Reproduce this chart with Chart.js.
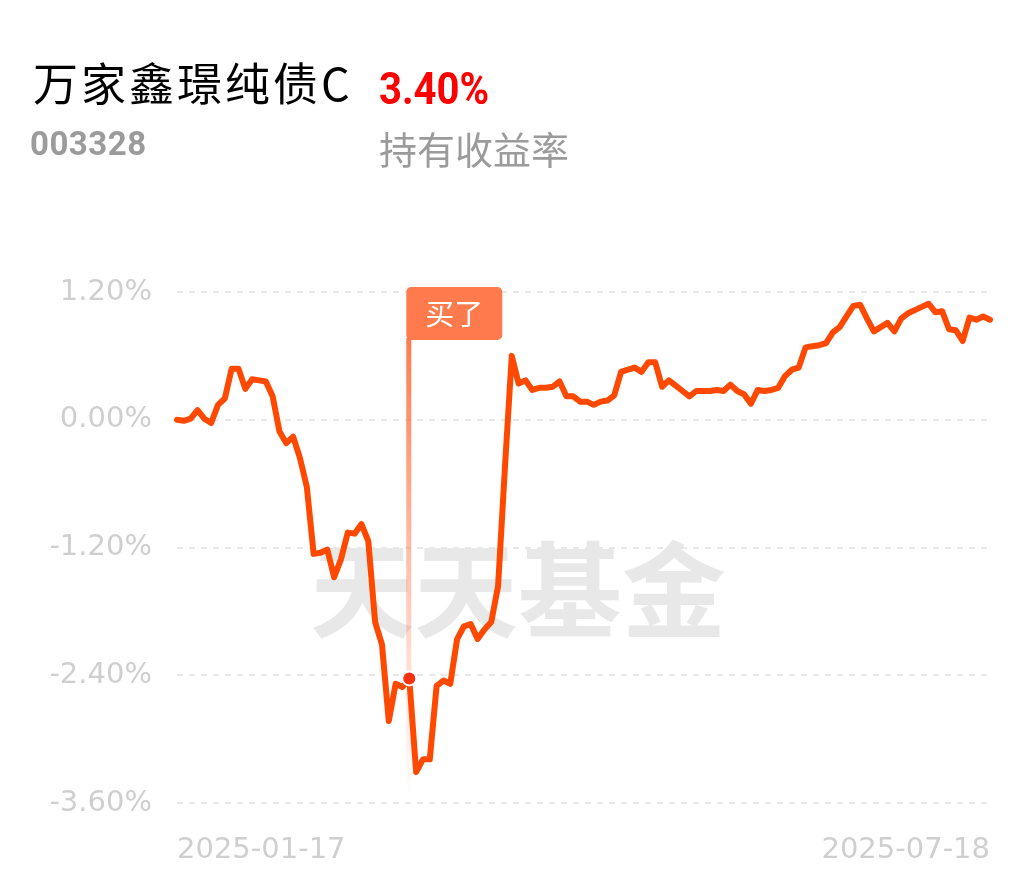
<!DOCTYPE html>
<html>
<head>
<meta charset="utf-8">
<script src="https://cdn.jsdelivr.net/npm/chart.js@4.4.1/dist/chart.umd.min.js"></script>
<style>
  html, body { margin: 0; padding: 0; background: #fff; }
  #wrap { width: 1035px; height: 881px; position: relative; }
</style>
</head>
<body>
<div id="wrap"><canvas id="lineChart" width="1035" height="881"></canvas></div>
<script>
const fundName = '万家鑫璟纯债C';
const fundCode = '003328';
const holdReturn = '3.40%';
const holdLabel = '持有收益率';
const buyText = '买了';
const watermark = '天天基金';

// trading days 2025-01-17 .. 2025-07-18
const dates = [
  '2025-01-17', '2025-01-20', '2025-01-21', '2025-01-22', '2025-01-23', '2025-01-24', '2025-01-27',
  '2025-02-05', '2025-02-06', '2025-02-07', '2025-02-10', '2025-02-11', '2025-02-12', '2025-02-13', '2025-02-14',
  '2025-02-17', '2025-02-18', '2025-02-19', '2025-02-20', '2025-02-21', '2025-02-24', '2025-02-25', '2025-02-26',
  '2025-02-27', '2025-02-28',
  '2025-03-03', '2025-03-04', '2025-03-05', '2025-03-06', '2025-03-07', '2025-03-10', '2025-03-11', '2025-03-12',
  '2025-03-13', '2025-03-14', '2025-03-17', '2025-03-18', '2025-03-19', '2025-03-20', '2025-03-21', '2025-03-24',
  '2025-03-25', '2025-03-26', '2025-03-27', '2025-03-28', '2025-03-31',
  '2025-04-01', '2025-04-02', '2025-04-03', '2025-04-07', '2025-04-08', '2025-04-09', '2025-04-10', '2025-04-11',
  '2025-04-14', '2025-04-15', '2025-04-16', '2025-04-17', '2025-04-18', '2025-04-21', '2025-04-22', '2025-04-23',
  '2025-04-24', '2025-04-25', '2025-04-28', '2025-04-29', '2025-04-30',
  '2025-05-06', '2025-05-07', '2025-05-08', '2025-05-09', '2025-05-12', '2025-05-13', '2025-05-14', '2025-05-15',
  '2025-05-16', '2025-05-19', '2025-05-20', '2025-05-21', '2025-05-22', '2025-05-23', '2025-05-26', '2025-05-27',
  '2025-05-28', '2025-05-29', '2025-05-30',
  '2025-06-03', '2025-06-04', '2025-06-05', '2025-06-06', '2025-06-09', '2025-06-10', '2025-06-11', '2025-06-12',
  '2025-06-13', '2025-06-16', '2025-06-17', '2025-06-18', '2025-06-19', '2025-06-20', '2025-06-23', '2025-06-24',
  '2025-06-25', '2025-06-26', '2025-06-27', '2025-06-30',
  '2025-07-01', '2025-07-02', '2025-07-03', '2025-07-04', '2025-07-07', '2025-07-08', '2025-07-09', '2025-07-10',
  '2025-07-11', '2025-07-14', '2025-07-15', '2025-07-16', '2025-07-17', '2025-07-18'
];

// cumulative return, %
const returns = [
  0.00, -0.01, 0.01, 0.09, 0.01, -0.03, 0.14, 0.20, 0.48, 0.48,
  0.29, 0.38, 0.37, 0.36, 0.22, -0.11, -0.22, -0.16, -0.36, -0.63,
  -1.26, -1.25, -1.22, -1.48, -1.31, -1.06, -1.07, -0.98, -1.14, -1.90,
  -2.11, -2.83, -2.48, -2.51, -2.43, -3.31, -3.19, -3.19, -2.50, -2.45,
  -2.48, -2.06, -1.94, -1.92, -2.06, -1.97, -1.90, -1.56, -0.45, 0.60,
  0.34, 0.37, 0.28, 0.30, 0.30, 0.31, 0.36, 0.22, 0.22, 0.17,
  0.17, 0.14, 0.17, 0.18, 0.23, 0.45, 0.47, 0.49, 0.45, 0.54,
  0.54, 0.31, 0.37, 0.32, 0.27, 0.22, 0.27, 0.27, 0.27, 0.28,
  0.27, 0.33, 0.27, 0.24, 0.15, 0.28, 0.27, 0.28, 0.30, 0.41,
  0.47, 0.49, 0.68, 0.69, 0.70, 0.72, 0.82, 0.87, 0.97, 1.07,
  1.08, 0.95, 0.83, 0.87, 0.91, 0.83, 0.95, 1.00, 1.03, 1.06,
  1.09, 1.01, 1.02, 0.85, 0.84, 0.74, 0.96, 0.94, 0.97, 0.94
];

const buyDate = '2025-03-14';
const yTicks = [-3.6, -2.4, -1.2, 0, 1.2];

const axisFont = { family: '"DejaVu Sans", sans-serif', size: 29 };

// header text + watermark, drawn under everything
const backdrop = {
  id: 'backdrop',
  beforeDraw(chart) {
    const ctx = chart.ctx;
    ctx.save();
    ctx.textBaseline = 'alphabetic';
    ctx.textAlign = 'left';
    ctx.fillStyle = '#000';
    ctx.font = '45px "Noto Sans CJK SC"';
    ctx.letterSpacing = '3px';
    ctx.fillText(fundName, 33, 101);
    ctx.letterSpacing = '0px';

    ctx.fillStyle = '#ff0000';
    ctx.font = 'bold 45px Roboto';
    ctx.save();
    ctx.translate(379, 104);
    ctx.scale(0.89, 1);
    ctx.fillText(holdReturn, 0, 0);
    ctx.restore();

    ctx.fillStyle = '#9b9b9b';
    ctx.font = 'bold 33px Roboto';
    ctx.letterSpacing = '0.5px';
    ctx.fillText(fundCode, 30, 155);
    ctx.letterSpacing = '0px';
    ctx.font = '38px "Noto Sans CJK SC"';
    ctx.fillText(holdLabel, 379, 164);

    ctx.fillStyle = '#e8e8e8';
    ctx.font = 'bold 104px "Noto Sans CJK SC"';
    ctx.textBaseline = 'middle';
    ctx.fillText(watermark, 310, 590);
    ctx.restore();
  }
};

// buy marker: fading guide line, label box and dot
const buyMarker = {
  id: 'buyMarker',
  beforeDatasetsDraw(chart) {
    const ctx = chart.ctx;
    const i = dates.indexOf(buyDate);
    const x = chart.scales.x.getPixelForValue(i);
    const top = 338, bottom = chart.chartArea.bottom - 5;
    const g = ctx.createLinearGradient(0, top, 0, bottom);
    g.addColorStop(0, 'rgba(255,122,77,1)');
    g.addColorStop(0.75, 'rgba(255,122,77,0.2)');
    g.addColorStop(1, 'rgba(255,122,77,0)');
    ctx.save();
    ctx.fillStyle = g;
    ctx.fillRect(x - 3, top, 5, bottom - top);
    ctx.restore();
  },
  afterDatasetsDraw(chart) {
    const ctx = chart.ctx;
    const i = dates.indexOf(buyDate);
    const x = chart.scales.x.getPixelForValue(i);
    const y = chart.scales.y.getPixelForValue(returns[i]);
    ctx.save();
    // label box
    ctx.fillStyle = '#ff7a4d';
    ctx.beginPath();
    ctx.roundRect(x - 3, 287, 96, 53, 5);
    ctx.fill();
    ctx.fillStyle = '#fff';
    ctx.font = '29px "Noto Sans CJK SC"';
    ctx.textAlign = 'center';
    ctx.textBaseline = 'middle';
    ctx.fillText(buyText, x + 45, 314);
    // dot
    ctx.beginPath();
    ctx.arc(x, y, 8, 0, Math.PI * 2);
    ctx.fillStyle = '#fff';
    ctx.fill();
    ctx.beginPath();
    ctx.arc(x, y, 6, 0, Math.PI * 2);
    ctx.fillStyle = '#f5320f';
    ctx.fill();
    ctx.restore();
  }
};

const ctx = document.getElementById('lineChart').getContext('2d');
const lineChart = new Chart(ctx, {
  type: 'line',
  data: {
    labels: dates,
    datasets: [{
      label: fundName,
      data: returns,
      borderColor: '#ff4800',
      borderWidth: 6,
      borderJoinStyle: 'round',
      borderCapStyle: 'round',
      pointRadius: 0,
      tension: 0,
      fill: false
    }]
  },
  options: {
    responsive: false,
    animation: false,
    devicePixelRatio: 1,
    layout: { padding: { left: 0, right: 45, top: 292, bottom: 0 } },
    plugins: {
      legend: { display: false },
      tooltip: { enabled: false }
    },
    scales: {
      x: {
        offset: false,
        grid: { display: false },
        border: { display: false },
        afterFit(scale) { scale.height = 78; },
        ticks: {
          autoSkip: false,
          maxRotation: 0,
          align: 'inner',
          padding: 22,
          color: '#cfcfcf',
          font: axisFont,
          callback(v, i) {
            return (i === 0 || i === dates.length - 1) ? dates[i] : '';
          }
        }
      },
      y: {
        min: -3.6,
        max: 1.2,
        afterFit(scale) { scale.width = 177; },
        afterBuildTicks(scale) {
          scale.ticks = yTicks.map(v => ({ value: v }));
        },
        grid: {
          color: '#e8e8e8',
          lineWidth: 2,
          drawTicks: false
        },
        border: { display: false, dash: [6, 6] },
        ticks: {
          padding: 25,
          color: '#cfcfcf',
          font: axisFont,
          callback(v) {
            return (Math.abs(v) < 1e-9 ? 0 : v).toFixed(2) + '%';
          }
        }
      }
    }
  },
  plugins: [backdrop, buyMarker]
});
</script>
</body>
</html>
